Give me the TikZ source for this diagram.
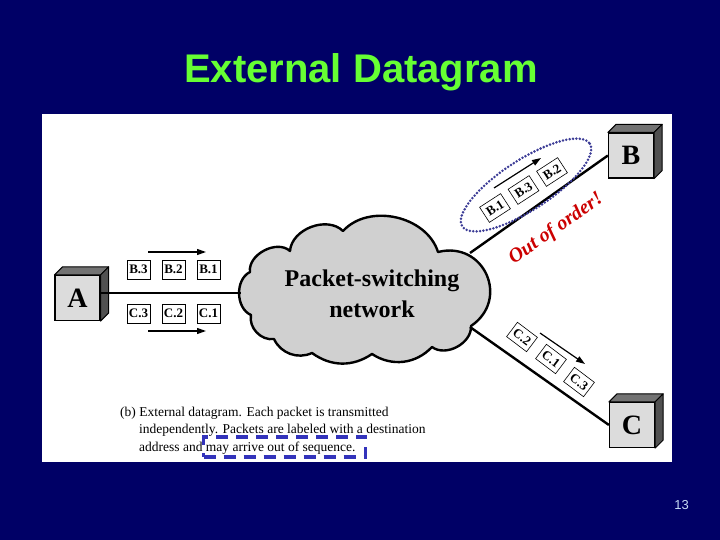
\documentclass[tikz,border=0pt]{standalone}
\usepackage{fontspec}
\setmainfont{Liberation Serif}
\newfontfamily\arialfont{Liberation Sans}
\usetikzlibrary{arrows.meta}
\definecolor{navy}{RGB}{0,0,102}
\definecolor{titlegreen}{RGB}{102,255,51}
\definecolor{boxfront}{RGB}{220,220,220}
\definecolor{boxtop}{RGB}{115,115,115}
\definecolor{boxside}{RGB}{80,80,80}
\definecolor{cloudgray}{RGB}{208,208,208}
\definecolor{ovalblue}{RGB}{60,60,150}
\definecolor{dashblue}{RGB}{51,51,187}
\definecolor{orderred}{RGB}{204,0,0}
\definecolor{pagenum}{RGB}{200,220,245}
\newcommand\hostfaces[1]{%
  \filldraw[fill=boxtop, line width=1pt, line join=round] (#1.north west) -- ++(8,-8) -- ([shift={(8,-8)}]#1.north east) -- (#1.north east) -- cycle;
  \filldraw[fill=boxside, line width=1pt, line join=round] (#1.north east) -- ++(8,-8) -- ([shift={(8,-8)}]#1.south east) -- (#1.south east) -- cycle;}
\tikzset{
  host/.style={draw, line width=1.2pt, fill=boxfront, minimum width=45pt, minimum height=45pt, inner sep=0pt, font=\bfseries\fontsize{28}{28}\selectfont},
  pkt/.style={draw, line width=0.9pt, fill=white, minimum width=23pt, minimum height=19pt, inner sep=0pt, font=\bfseries\fontsize{13}{13}\selectfont},
  tpkt/.style={pkt, line width=0.6pt, minimum width=25pt, minimum height=18pt},
  link/.style={line width=2.4pt},
  flow/.style={line width=1.2pt, -{Triangle[length=9pt,width=6pt]}},
  captext/.style={anchor=base west, inner sep=0pt, font=\fontsize{13.5}{16}\selectfont},
}
\begin{document}
\begin{tikzpicture}[x=1pt,y=-1pt]
\useasboundingbox (0,0) rectangle (720,540);
\fill[navy] (0,0) rectangle (720,540);
\fill[white] (42,114) rectangle (672,462);
% title and page number
\node[anchor=base, inner sep=0pt, text=titlegreen, font=\arialfont\bfseries\fontsize{40}{48}\selectfont] (title) at (361,83) {External Datagram};
\node[anchor=base, inner sep=0pt, text=pagenum, font=\arialfont\fontsize{13}{13}\selectfont] (pnum) at (681.5,509) {13};
% cloud
\coordinate (v1) at (250,272);
\coordinate (v2) at (290,251);
\coordinate (v3) at (343,231);
\coordinate (v4) at (438,252);
\coordinate (v5) at (471,326);
\coordinate (v6) at (432,347);
\coordinate (v7) at (372,354);
\coordinate (v8) at (312,353);
\coordinate (v9) at (274,339);
\coordinate (v10) at (251,315);
\filldraw[fill=cloudgray, line width=2.4pt, line join=round]
  (v1) to[bend left=70] (v2) to[bend left=65] (v3) to[bend left=60] (v4)
  to[bend left=80, looseness=1.5] (v5) to[bend left=65] (v6) to[bend left=40] (v7)
  to[bend left=35] (v8) to[bend left=45] (v9) to[bend left=55] (v10)
  to[bend left=65] cycle;
\node[align=center, inner sep=0pt, font=\bfseries\fontsize{24}{31}\selectfont] (net) at (372,294) {Packet-switching\\network};
\coordinate (cA) at (241,293);
\coordinate (cB) at (470,253);
\coordinate (cC) at (470,327);
% hosts
\node[host] (A) at (77.5,298) {A};
\node[host] (B) at (631,155.5) {B};
\node[host] (C) at (632,425) {C};
\hostfaces{A}
\hostfaces{B}
\hostfaces{C}
% links
\draw[link] (cA -| A.east) -- (cA);
\draw[link] (cB) -- (B.west);
\draw[link] (cC) -- (C.west);
% packets from A
\node[pkt] (pb3) at (138.5,269.5) {B.3};
\node[pkt] (pb2) at (173.5,269.5) {B.2};
\node[pkt] (pb1) at (208.5,269.5) {B.1};
\node[pkt] (pc3) at (138.5,313.5) {C.3};
\node[pkt] (pc2) at (173.5,313.5) {C.2};
\node[pkt] (pc1) at (208.5,313.5) {C.1};
\coordinate (fa1) at (148,252);
\coordinate (fa2) at (206,252);
\coordinate (fb1) at (148,331);
\coordinate (fb2) at (206,331);
\draw[flow] (fa1) -- (fa2);
\draw[flow] (fb1) -- (fb2);
% packets to B
\node[tpkt, rotate=33] (qb1) at (495,208) {B.1};
\node[tpkt, rotate=33] (qb3) at (523.5,190) {B.3};
\node[tpkt, rotate=33] (qb2) at (552,172) {B.2};
\coordinate (fc1) at (494,188);
\coordinate (fc2) at (541,158);
\draw[flow] (fc1) -- (fc2);
\draw[ovalblue, line width=2.8pt, line cap=round, dash pattern=on 0pt off 3.4pt, rotate around={33:(526,185)}] (526,185) ellipse [x radius=76, y radius=25];
\node[rotate=35, inner sep=0pt, text=orderred, font=\bfseries\itshape\fontsize{20}{20}\selectfont] (ooo) at (556,229) {Out of order!};
% packets to C
\node[tpkt, rotate=-37] (qc2) at (522,337) {C.2};
\node[tpkt, rotate=-37] (qc1) at (551,359) {C.1};
\node[tpkt, rotate=-37] (qc3) at (579,382) {C.3};
\coordinate (fd1) at (540,333);
\coordinate (fd2) at (585,364);
\draw[flow] (fd1) -- (fd2);
% caption
\node[captext] (cap1) at (120,416) {(b) External datagram. Each packet is transmitted};
\node[captext] (cap2) at (139,433.5) {independently. Packets are labeled with a destination};
\node[captext] (cap3) at (139,451) {address and may arrive out of sequence.};
\node[draw=dashblue, line width=3.5pt, dash pattern=on 12pt off 8pt, minimum width=162pt, minimum height=20pt, inner sep=0pt] (seqbox) at (284.5,447) {};
\end{tikzpicture}
\end{document}
